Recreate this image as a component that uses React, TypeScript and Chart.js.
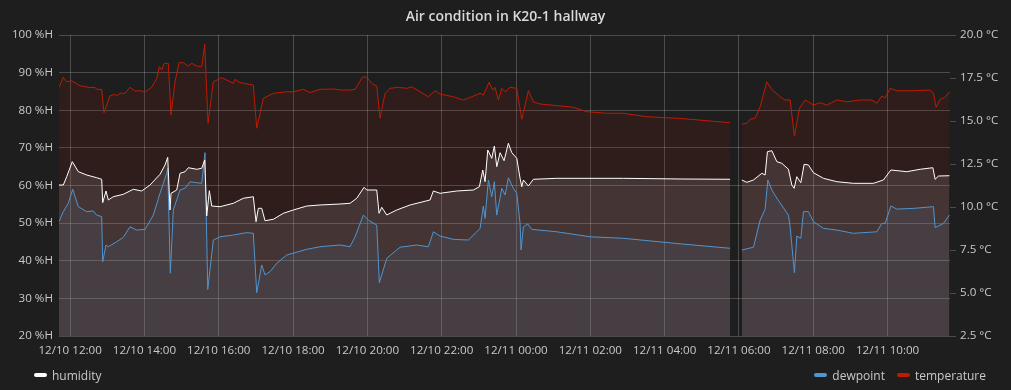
import React, { useEffect, useRef } from "react";
import { Chart, registerables } from "chart.js";

Chart.register(...registerables);

const TITLE = "Air condition in K20-1 hallway";
// hours since 12/10 00:00
const X_TICK_HOURS = [12, 14, 16, 18, 20, 22, 24, 26, 28, 30, 32, 34];
const X_MIN = 11.7;
const X_MAX = 35.68;
const HUMIDITY_TICKS = [20, 30, 40, 50, 60, 70, 80, 90, 100];
const TEMPERATURE_TICKS = [2.5, 5, 7.5, 10, 12.5, 15, 17.5, 20];

type Pt = [number, number | null];

const humidity: Pt[] = [
  [11.70, 60.13], [11.816, 60.13], [11.907, 62.34], [12.058, 66.33], [12.220, 63.67], [12.446, 62.79],
  [12.715, 62.07], [12.849, 61.65], [12.876, 55.43], [12.965, 58.54], [13.027, 56.15], [13.162, 57.02],
  [13.431, 57.66], [13.700, 58.99], [13.926, 58.54], [14.150, 60.13], [14.419, 62.98], [14.553, 65.45],
  [14.626, 67.49], [14.688, 53.49], [14.715, 57.93], [14.868, 58.80], [14.957, 63.24], [15.092, 63.67],
  [15.180, 64.73], [15.407, 64.31], [15.541, 64.57], [15.622, 66.78], [15.676, 51.89], [15.746, 58.62],
  [15.810, 54.55], [16.034, 54.36], [16.392, 55.27], [16.661, 56.60], [16.930, 57.02], [17.003, 50.38],
  [17.065, 53.94], [17.156, 53.94], [17.245, 50.64], [17.469, 51.02], [17.738, 52.61], [18.007, 53.49],
  [18.368, 54.55], [18.725, 54.82], [19.264, 55.08], [19.533, 55.27], [19.713, 56.60], [19.910, 59.52],
  [19.983, 58.80], [20.252, 58.80], [20.314, 52.61], [20.386, 54.21], [20.521, 52.16], [20.790, 53.49],
  [21.148, 54.82], [21.686, 56.15], [21.775, 58.54], [21.956, 57.93], [22.405, 58.54], [22.852, 58.80],
  [23.014, 59.68], [23.105, 64.12], [23.167, 61.01], [23.240, 69.44], [23.347, 67.23], [23.417, 70.50],
  [23.482, 65.00], [23.571, 68.72], [23.678, 66.59], [23.794, 71.22], [23.886, 68.72], [24.020, 67.23],
  [24.109, 61.91], [24.155, 59.68], [24.198, 61.46], [24.333, 59.87], [24.467, 61.65], [25.097, 61.91],
  [26.890, 61.91], [28.416, 61.73], [29.762, 61.65], [29.92, null], [30.077, 61.46], [30.212, 60.85],
  [30.390, 61.46], [30.615, 63.24], [30.704, 62.79], [30.766, 68.98], [30.885, 69.25], [31.020, 66.33],
  [31.154, 65.90], [31.332, 64.31], [31.423, 60.13], [31.485, 59.26], [31.557, 62.34], [31.665, 60.74],
  [31.754, 65.63], [31.870, 65.45], [32.004, 63.40], [32.273, 61.91], [32.634, 61.01], [33.081, 60.58],
  [33.619, 60.58], [33.888, 61.46], [34.088, 64.12], [34.518, 63.67], [34.876, 64.31], [35.218, 64.73],
  [35.280, 61.65], [35.369, 62.52], [35.665, 62.60],
];

const dewpoint: Pt[] = [
  [11.70, 9.15], [11.816, 9.73], [11.950, 10.22], [12.069, 11.03], [12.220, 10.02], [12.446, 9.73],
  [12.623, 9.77], [12.715, 9.53], [12.849, 9.44], [12.876, 6.82], [12.965, 7.79], [13.027, 7.69],
  [13.253, 7.98], [13.431, 8.24], [13.611, 8.85], [13.792, 8.66], [14.015, 8.70], [14.238, 9.53],
  [14.419, 10.80], [14.599, 11.96], [14.626, 12.25], [14.696, 6.15], [14.777, 9.83], [14.957, 10.99],
  [15.092, 11.09], [15.226, 11.47], [15.407, 11.41], [15.541, 11.38], [15.630, 13.16], [15.703, 5.21],
  [15.853, 8.08], [16.034, 8.27], [16.392, 8.37], [16.752, 8.51], [16.930, 8.47], [17.022, 5.02],
  [17.156, 6.63], [17.245, 6.05], [17.380, 6.24], [17.560, 6.73], [17.829, 7.21], [18.368, 7.54],
  [18.725, 7.69], [19.264, 7.79], [19.533, 7.69], [19.668, 8.27], [19.891, 9.53], [20.026, 9.24],
  [20.252, 8.95], [20.322, 5.60], [20.521, 7.02], [20.879, 7.66], [21.329, 7.79], [21.641, 7.69],
  [21.775, 8.56], [21.956, 8.31], [22.314, 8.12], [22.717, 8.08], [22.943, 8.56], [23.033, 8.76],
  [23.121, 10.06], [23.167, 9.34], [23.256, 11.57], [23.347, 10.60], [23.417, 11.47], [23.482, 9.53],
  [23.617, 11.09], [23.705, 10.70], [23.794, 11.70], [23.929, 11.09], [24.020, 10.80], [24.109, 9.05],
  [24.136, 7.50], [24.198, 8.85], [24.316, 9.01], [24.424, 8.70], [25.097, 8.56], [25.993, 8.27],
  [26.890, 8.18], [28.416, 7.86], [29.762, 7.60], [29.92, null], [30.077, 7.50], [30.390, 7.66],
  [30.570, 9.24], [30.704, 9.87], [30.777, 11.57], [30.885, 10.99], [31.020, 10.51], [31.332, 9.53],
  [31.377, 8.85], [31.493, 6.18], [31.557, 8.31], [31.665, 8.18], [31.736, 9.73], [31.870, 9.73],
  [32.004, 9.15], [32.273, 8.76], [32.634, 8.66], [33.081, 8.47], [33.711, 8.56], [33.845, 9.05],
  [33.934, 9.05], [34.088, 10.06], [34.249, 9.88], [34.696, 9.92], [35.234, 10.02], [35.280, 8.80],
  [35.504, 9.05], [35.665, 9.53],
];

const temperature: Pt[] = [
  [11.70, 16.96], [11.816, 17.54], [11.907, 17.28], [12.042, 17.34], [12.265, 17.05], [12.534, 16.94],
  [12.669, 16.96], [12.715, 16.84], [12.849, 16.84], [12.911, 15.48], [13.073, 16.47], [13.207, 16.55],
  [13.253, 16.45], [13.344, 16.61], [13.477, 16.61], [13.611, 16.96], [13.746, 16.74], [13.880, 16.76],
  [14.015, 16.70], [14.195, 16.96], [14.330, 17.48], [14.400, 18.16], [14.464, 17.97], [14.526, 18.35],
  [14.642, 18.35], [14.715, 15.35], [14.822, 17.28], [14.930, 18.39], [15.046, 18.39], [15.164, 18.20],
  [15.272, 18.35], [15.407, 18.20], [15.541, 18.16], [15.622, 19.46], [15.711, 14.87], [15.853, 17.28],
  [16.080, 17.52], [16.214, 17.38], [16.392, 17.19], [16.438, 17.42], [16.572, 17.23], [16.930, 17.09],
  [17.022, 14.58], [17.199, 16.32], [17.469, 16.61], [17.829, 16.70], [18.007, 16.70], [18.276, 16.84],
  [18.456, 16.65], [18.725, 16.84], [19.084, 16.86], [19.264, 16.80], [19.533, 16.80], [19.668, 16.84],
  [19.875, 17.58], [19.983, 17.54], [20.117, 17.19], [20.252, 17.03], [20.341, 15.16], [20.475, 16.61],
  [20.610, 16.90], [20.833, 16.96], [21.059, 16.90], [21.194, 16.99], [21.417, 16.70], [21.641, 16.41],
  [21.821, 16.76], [21.956, 16.57], [22.314, 16.41], [22.583, 16.22], [22.809, 16.41], [23.033, 16.61],
  [23.121, 16.51], [23.275, 17.25], [23.374, 16.80], [23.436, 16.96], [23.525, 16.22], [23.617, 16.90],
  [23.705, 16.70], [23.840, 16.96], [24.020, 16.90], [24.155, 15.10], [24.333, 16.76], [24.467, 16.12],
  [24.648, 15.99], [25.544, 15.80], [25.904, 15.54], [26.443, 15.45], [26.890, 15.45], [27.519, 15.25],
  [28.416, 15.15], [29.762, 14.90], [29.92, null], [30.077, 14.83], [30.212, 14.87], [30.301, 15.10],
  [30.435, 15.16], [30.570, 15.83], [30.750, 17.28], [30.885, 16.84], [31.108, 16.41], [31.243, 16.22],
  [31.377, 16.22], [31.493, 14.13], [31.628, 15.74], [31.781, 16.22], [32.004, 15.93], [32.185, 16.06],
  [32.365, 15.93], [32.634, 16.22], [32.903, 16.12], [33.261, 16.22], [33.576, 16.22], [33.711, 16.03],
  [33.845, 16.45], [33.934, 16.35], [34.069, 16.90], [34.249, 16.76], [34.696, 16.76], [35.145, 16.80],
  [35.234, 16.61], [35.307, 15.80], [35.414, 16.26], [35.549, 16.38], [35.665, 16.70],
];

const SERIES = [
  { label: "humidity", color: "#FFFFFF", axis: "yH", data: humidity, side: "left" },
  { label: "dewpoint", color: "#5195CE", axis: "yT", data: dewpoint, side: "right" },
  { label: "temperature", color: "#BF1B00", axis: "yT", data: temperature, side: "right" },
];

const BG = "#1f1e1f";
const TEXT = "#c8c9ca";
const GRID = "rgba(255,255,255,0.2)";
const FONT = "'Open Sans', 'Noto Sans', sans-serif";

function withAlpha(hex: string, a: number) {
  const n = parseInt(hex.slice(1), 16);
  return `rgba(${(n >> 16) & 255},${(n >> 8) & 255},${n & 255},${a})`;
}

function fmtHour(h: number) {
  const day = h >= 24 ? 11 : 10;
  const hh = Math.round(h % 24);
  return `12/${day} ${String(hh).padStart(2, "0")}:00`;
}

function LegendItem({ label, color }: { label: string; color: string }) {
  return (
    <div style={{ display: "flex", alignItems: "center", marginLeft: 12 }}>
      <span style={{ display: "inline-block", width: 13, height: 4, borderRadius: 2, background: color, marginRight: 5 }} />
      <span>{label}</span>
    </div>
  );
}

export default function App() {
  const ref = useRef<HTMLCanvasElement | null>(null);

  useEffect(() => {
    document.body.style.margin = "0";
    document.body.style.background = BG;
    const canvas = ref.current;
    if (!canvas) return;
    const chart = new Chart(canvas, {
      type: "line",
      data: {
        datasets: SERIES.map((s) => ({
          label: s.label,
          data: s.data.map(([x, y]) => ({ x, y })),
          borderColor: s.color,
          backgroundColor: withAlpha(s.color, 0.1),
          borderWidth: 1,
          pointRadius: 0,
          pointHoverRadius: 0,
          fill: "start",
          tension: 0,
          spanGaps: false,
          yAxisID: s.axis,
        })),
      },
      options: {
        animation: false,
        responsive: false,
        maintainAspectRatio: false,
        layout: { padding: { top: 35, left: 0, right: 0, bottom: 0 } },
        plugins: {
          legend: { display: false },
          title: { display: false },
          tooltip: { enabled: false },
          filler: { drawTime: "beforeDatasetsDraw" },
        },
        scales: {
          x: {
            type: "linear",
            min: X_MIN,
            max: X_MAX,
            border: { display: false },
            grid: { color: GRID, drawTicks: false },
            ticks: {
              color: TEXT,
              font: { family: FONT, size: 11.6 },
              padding: 8,
              autoSkip: false,
              maxRotation: 0,
              callback: (v: any) => fmtHour(Number(v)),
            },
            afterBuildTicks: (axis: any) => {
              axis.ticks = X_TICK_HOURS.map((value) => ({ value }));
            },
            afterFit: (s: any) => {
              s.height = 54;
            },
          },
          yH: {
            type: "linear",
            position: "left",
            min: 20,
            max: 100,
            border: { display: false },
            grid: { color: GRID, drawTicks: false },
            ticks: {
              color: TEXT,
              font: { family: FONT, size: 11.6 },
              padding: 6,
              callback: (v: any) => `${v} %H`,
            },
            afterBuildTicks: (axis: any) => {
              axis.ticks = HUMIDITY_TICKS.map((value) => ({ value }));
            },
            afterFit: (s: any) => {
              s.width = 59;
            },
          },
          yT: {
            type: "linear",
            position: "right",
            min: 2.5,
            max: 20,
            border: { display: false },
            grid: { color: GRID, drawOnChartArea: false, drawTicks: true, tickLength: 6 },
            ticks: {
              color: TEXT,
              font: { family: FONT, size: 11.6 },
              padding: 4,
              callback: (v: any) => `${Number(v).toFixed(1)} °C`,
            },
            afterBuildTicks: (axis: any) => {
              axis.ticks = TEMPERATURE_TICKS.map((value) => ({ value }));
            },
            afterFit: (s: any) => {
              s.width = 61;
            },
          },
        },
      },
    });
    return () => chart.destroy();
  }, []);

  const left = SERIES.filter((s) => s.side === "left");
  const right = SERIES.filter((s) => s.side === "right");

  return (
    <div style={{ position: "fixed", left: 0, top: 0, width: 1011, height: 390, background: BG, overflow: "hidden", fontFamily: FONT }}>
      <canvas ref={ref} width={1011} height={390} style={{ position: "absolute", left: 0, top: 0, display: "block" }} />
      <div style={{ position: "absolute", left: 0, top: 0, width: 1011, height: 31, lineHeight: "31px", textAlign: "center", color: "#d8d9da", fontSize: 14, fontWeight: 600 }}>
        {TITLE}
      </div>
      <div style={{ position: "absolute", left: 22, top: 367, height: 16, display: "flex", alignItems: "center", color: TEXT, fontSize: 12 }}>
        {left.map((s) => <LegendItem key={s.label} label={s.label} color={s.color} />)}
      </div>
      <div style={{ position: "absolute", right: 25, top: 367, height: 16, display: "flex", alignItems: "center", color: TEXT, fontSize: 12 }}>
        {right.map((s) => <LegendItem key={s.label} label={s.label} color={s.color} />)}
      </div>
    </div>
  );
}
